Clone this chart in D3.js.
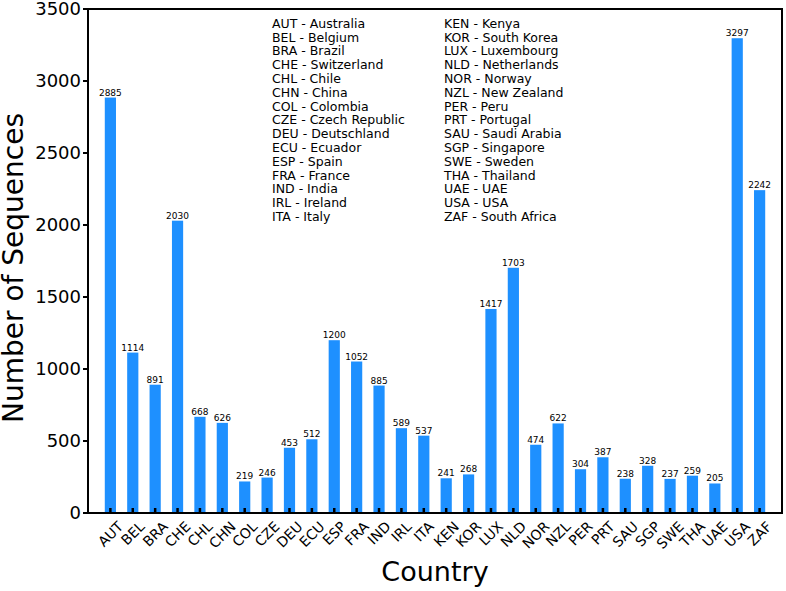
<!DOCTYPE html>
<meta charset="utf-8">
<style>
body { margin: 0; background: #fff; }
svg text { font-family: "DejaVu Sans", sans-serif; fill: #000; }
</style>
<svg width="786" height="591"></svg>
<script src="https://d3js.org/d3.v7.min.js"></script>
<script>

// data
var countries = ["AUT","BEL","BRA","CHE","CHL","CHN","COL","CZE","DEU","ECU","ESP","FRA","IND","IRL","ITA",
                 "KEN","KOR","LUX","NLD","NOR","NZL","PER","PRT","SAU","SGP","SWE","THA","UAE","USA","ZAF"];
var counts = [2885,1114,891,2030,668,626,219,246,453,512,1200,1052,885,589,537,
              241,268,1417,1703,474,622,304,387,238,328,237,259,205,3297,2242];
var names = ["Australia","Belgium","Brazil","Switzerland","Chile","China","Colombia","Czech Republic",
             "Deutschland","Ecuador","Spain","France","India","Ireland","Italy",
             "Kenya","South Korea","Luxembourg","Netherlands","Norway","New Zealand","Peru","Portugal",
             "Saudi Arabia","Singapore","Sweden","Thailand","UAE","USA","South Africa"];
var yTicks = [0,500,1000,1500,2000,2500,3000,3500];

var svg = d3.select("svg");
// plot area (note: "top" is reserved on window)
var pLeft = 88, pRight = 782, pTop = 9, pBottom = 513;

var x = d3.scaleLinear().domain([-1, 30]).range([pLeft, pRight]);
var y = d3.scaleLinear().domain([0, 3500]).range([pBottom, pTop]);
var bw = x(0.5) - x(0);

// bars
svg.selectAll(".bar")
  .data(counts)
  .join("rect")
    .attr("class", "bar")
    .attr("x", (d, i) => x(i) - bw / 2)
    .attr("y", d => y(d))
    .attr("width", bw)
    .attr("height", d => y(0) - y(d))
    .attr("fill", "#1E90FF");

// value labels
svg.selectAll(".val")
  .data(counts)
  .join("text")
    .attr("class", "val")
    .attr("x", (d, i) => x(i))
    .attr("y", d => y(d) - 2)
    .attr("text-anchor", "middle")
    .style("font-size", "9px")
    .text(d => d);

// frame
svg.append("rect")
    .attr("x", pLeft).attr("y", pTop)
    .attr("width", pRight - pLeft).attr("height", pBottom - pTop)
    .attr("fill", "none").attr("stroke", "#000").attr("stroke-width", 2);

// y ticks (outward)
svg.selectAll(".ytick")
  .data(yTicks)
  .join("line")
    .attr("class", "ytick")
    .attr("x1", pLeft - 5).attr("x2", pLeft)
    .attr("y1", d => y(d)).attr("y2", d => y(d))
    .attr("stroke", "#000").attr("stroke-width", 2);

svg.selectAll(".ylab")
  .data(yTicks)
  .join("text")
    .attr("class", "ylab")
    .attr("x", pLeft - 7)
    .attr("y", d => y(d))
    .attr("dy", "0.36em")
    .attr("text-anchor", "end")
    .style("font-size", "18px")
    .text(d => d);

// x ticks (inward)
svg.selectAll(".xtick")
  .data(countries)
  .join("line")
    .attr("class", "xtick")
    .attr("x1", (d, i) => x(i)).attr("x2", (d, i) => x(i))
    .attr("y1", pBottom).attr("y2", pBottom - 5)
    .attr("stroke", "#000").attr("stroke-width", 2.5);

// rotated x labels, bbox centred on tick like matplotlib
var fs = 14;
svg.selectAll(".xlab")
  .data(countries)
  .join("text")
    .attr("class", "xlab")
    .attr("text-anchor", "middle")
    .attr("dominant-baseline", "central")
    .style("font-size", fs + "px")
    .text(d => d)
    .attr("transform", function(d, i) {
      var w = this.getComputedTextLength();
      var h = fs * 1.0;
      var half = (w + h) / (2 * Math.SQRT2);
      return "translate(" + x(i) + "," + (pBottom + 6 + half) + ") rotate(-45)";
    });

// axis titles
svg.append("text")
    .attr("x", (pLeft + pRight) / 2)
    .attr("y", 581)
    .attr("text-anchor", "middle")
    .style("font-size", "27px")
    .text("Country");

svg.append("text")
    .attr("transform", "translate(23,268) rotate(-90)")
    .attr("text-anchor", "middle")
    .style("font-size", "28px")
    .text("Number of Sequences");

// legend text (two columns)
var legend = svg.append("g");
legend.selectAll("text")
  .data(countries)
  .join("text")
    .attr("x", (d, i) => i < 15 ? 272 : 444)
    .attr("y", (d, i) => 23.3 + (i % 15) * 13.8)
    .attr("dy", "0.36em")
    .style("font-size", "12.5px")
    .text((d, i) => d + " - " + names[i]);

</script>
